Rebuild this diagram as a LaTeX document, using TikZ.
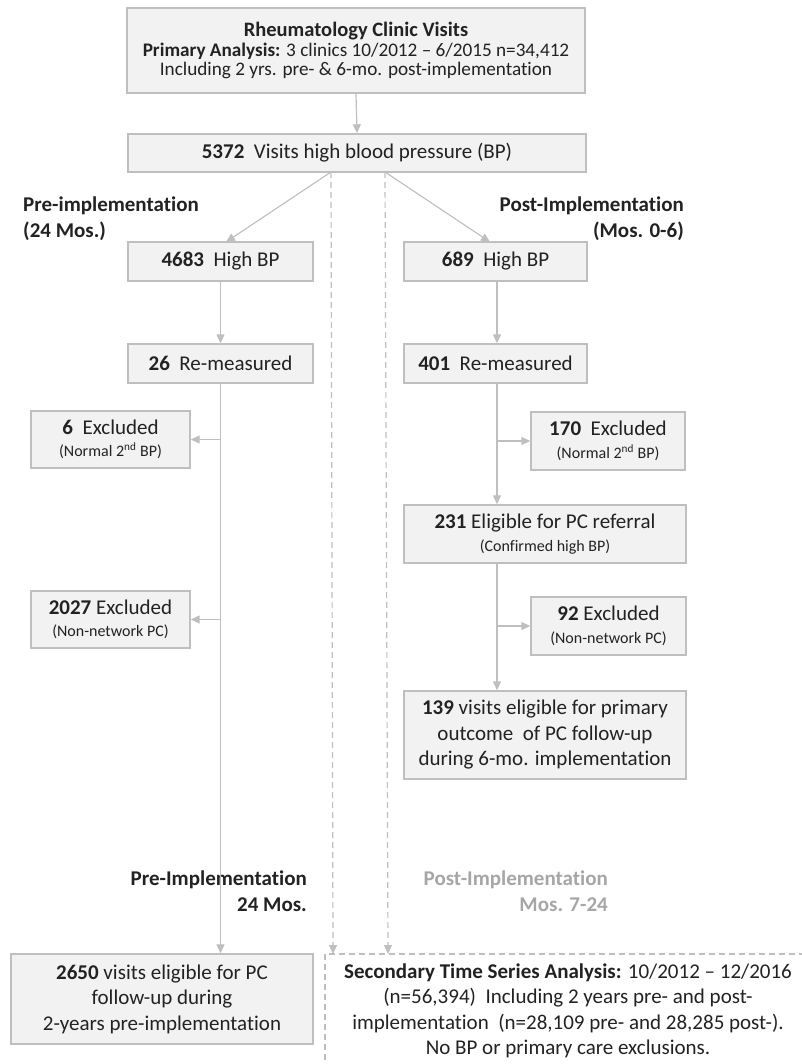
\documentclass[tikz,border=0pt]{standalone}
\usepackage{fontspec}
\setmainfont[Ligatures=NoCommon]{Carlito}
\usetikzlibrary{arrows.meta}
\definecolor{boxfill}{HTML}{F2F2F2}
\definecolor{boxline}{HTML}{BFBFBF}
\definecolor{txt}{HTML}{222222}
\definecolor{lbl}{HTML}{A6A6A6}
\begin{document}
\begin{tikzpicture}[x=1pt,y=-1pt,
  box/.style={draw=boxline, fill=boxfill, line width=1.4pt, inner sep=0pt, align=center, text=txt,
    font=\fontsize{21}{25.5}\selectfont},
  arr/.style={draw=boxline, line width=1.2pt, -{Triangle[length=9pt,width=8pt]}},
  dasharr/.style={draw=boxline, line width=1.2pt, dash pattern=on 6pt off 4pt, -{Triangle[length=9pt,width=8pt]}},
  lab/.style={font=\fontsize{21}{26}\selectfont\bfseries, text=txt, inner sep=0pt},
]
\useasboundingbox (0,0) rectangle (801,1064);

% boxes
\node[box, minimum width=458, minimum height=85, font=\fontsize{19.2}{19.5}\selectfont] (top) at (356,50.5)
  {{\fontsize{20.5}{19.5}\selectfont\textbf{Rheumatology Clinic Visits}}\\[0pt]
   \textbf{Primary Analysis:} 3 clinics 10/2012 -- 6/2015 n=34,412\\[0pt]
   Including 2 yrs. pre- \& 6-mo. post-implementation};
\node[box, minimum width=458, minimum height=38] (v5372) at (357,153)
  {\textbf{5372}\ \ Visits high blood pressure (BP)};
\node[box, minimum width=185, minimum height=39] (h4683) at (220.5,261.5) {\textbf{4683}\ \ High BP};
\node[box, minimum width=183, minimum height=39] (h689) at (495.5,261.5) {\textbf{689}\ \ High BP};
\node[box, minimum width=185, minimum height=39] (r26) at (220.5,363.5) {\textbf{26}\ \ Re-measured};
\node[box, minimum width=183, minimum height=39] (r401) at (495.5,363.5) {\textbf{401}\ \ Re-measured};
\node[box, minimum width=159, minimum height=57] (e6) at (110.5,439.5)
  {\textbf{6}\ \ Excluded\\[-3pt] {\fontsize{16}{18}\selectfont (Normal 2\textsuperscript{nd} BP)}};
\node[box, minimum width=154, minimum height=58] (e170) at (608,441)
  {\textbf{170}\ \ Excluded\\[-3pt] {\fontsize{16}{18}\selectfont (Normal 2\textsuperscript{nd} BP)}};
\node[box, minimum width=282, minimum height=58] (e231) at (545,534)
  {\textbf{231} Eligible for PC referral\\[-3pt] {\fontsize{16}{18}\selectfont (Confirmed high BP)}};
\node[box, minimum width=159, minimum height=57] (e2027) at (110.5,619.5)
  {\textbf{2027} Excluded\\[-3pt] {\fontsize{16}{18}\selectfont (Non-network PC)}};
\node[box, minimum width=155, minimum height=58] (e92) at (608.5,626)
  {\textbf{92} Excluded\\[-3pt] {\fontsize{16}{18}\selectfont (Non-network PC)}};
\node[box, minimum width=282, minimum height=88] (b139) at (545,735)
  {\textbf{139} visits eligible for primary\\ outcome \ of PC follow-up\\ during 6-mo. implementation};
\node[box, minimum width=302, minimum height=90] (b2650) at (162,999)
  {\textbf{2650} visits eligible for PC\\ follow-up during\\ 2-years pre-implementation};

% labels
\node[lab, anchor=west, align=left] (lpre) at (23,219) {Pre-implementation\\(24 Mos.)};
\node[lab, anchor=east, align=right] (lpost) at (684,219) {Post-Implementation\\(Mos. 0-6)};
\node[lab, anchor=east, align=right] (lpre2) at (307,891) {Pre-Implementation\\24 Mos.};
\node[lab, anchor=east, align=right, text=lbl] (lpost2) at (608,891) {Post-Implementation\\Mos. 7-24};

% secondary box (dashed, open to the right and bottom)
\coordinate (sTL) at (325,954);
\coordinate (sBL) at (325,1070);
\coordinate (sTR) at (805,954);
\draw[draw=boxline, line width=1.2pt, dash pattern=on 6pt off 4pt] (sBL) -- (sTL) -- (sTR);
\node[align=center, text=txt, font=\fontsize{21}{25.4}\selectfont, inner sep=0pt] (sec) at (568,1011)
  {\textbf{Secondary Time Series Analysis:} 10/2012 -- 12/2016\\
   (n=56,394)\ \ Including 2 years pre- and post-\\
   implementation\ \ (n=28,109 pre- and 28,285 post-).\\
   No BP or primary care exclusions.};

% connectors
\draw[arr] (top.south) -- (v5372.north);
\coordinate (dl0) at (331,172);
\coordinate (dr0) at (385,172);
\coordinate (dl1) at (333,954);
\coordinate (dr1) at (388,954);
\draw[arr] (dl0) -- (226,242);
\draw[arr] (dr0) -- (490,242);
\draw[dasharr] (dl0) -- (dl1);
\draw[dasharr] (dr0) -- (dr1);

\draw[arr] (h4683.south) -- (r26.north);
\draw[arr] ([xshift=1.5pt]h689.south) -- ([xshift=1.5pt]r401.north);

% left trunk
\draw[arr] (r26.south) -- (b2650.north -| r26.south);
\draw[arr] (r26.south |- e6.east) -- (e6.east);
\draw[arr] (r26.south |- e2027.east) -- (e2027.east);

% right trunk
\coordinate (rt) at (497,0);
\draw[arr] (rt |- r401.south) -- (rt |- e231.north);
\draw[arr] (rt |- e231.south) -- (rt |- b139.north);
\draw[arr] (rt |- e170.east) -- (e170.west);
\draw[arr] (rt |- e92.east) -- (e92.west);
\end{tikzpicture}
\end{document}
